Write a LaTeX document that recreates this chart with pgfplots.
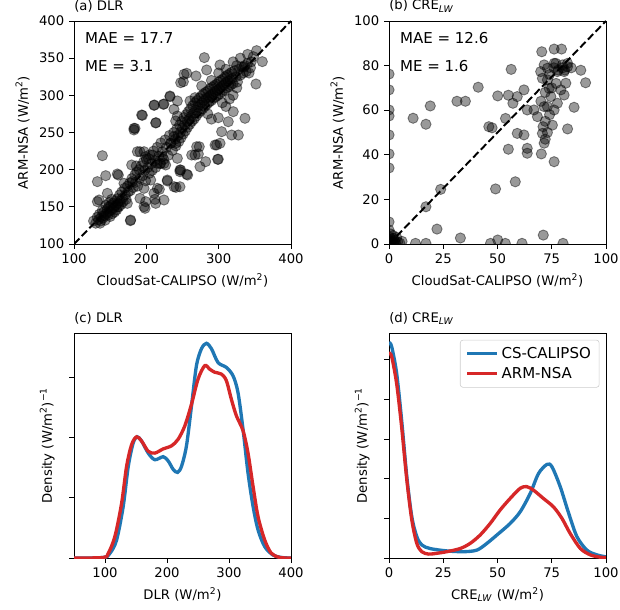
\documentclass[border=0pt]{standalone}
\usepackage{fontspec}
\setmainfont{DejaVu Sans}
\usepackage{pgfplots}
\pgfplotsset{compat=1.18}
\definecolor{tabblue}{RGB}{31,119,180}
\definecolor{tabred}{RGB}{214,39,40}
\newcommand{\fs}{\fontsize{9.5}{11}\selectfont}
\newcommand{\fl}{\fontsize{10.8}{13}\selectfont}
\pgfplotsset{
  base/.style={scale only axis, anchor=south west, width=156.2pt,
    axis line style={line width=0.6pt}, tick align=outside, tick pos=left,
    major tick length=3.5pt, every tick/.style={black, line width=0.6pt},
    tick label style={font=\fs}, label style={font=\fs},
    title style={font=\fs, at={(0,1)}, anchor=south west, inner xsep=0pt, inner ysep=0pt},
    clip marker paths=true,
    /pgf/number format/assume math mode=true},
  sc/.style={only marks, mark=*, mark size=3.7pt,
    mark options={fill=black, fill opacity=0.4, draw=black, draw opacity=0.45, line width=0.6pt}},
  dl/.style={black, dash pattern=on 5.5pt off 2.4pt, line width=1.4pt},
  kb/.style={tabblue, line width=2.4pt, smooth, tension=0.5},
  kr/.style={tabred, line width=2.4pt, smooth, tension=0.5},
}
\begin{document}
\begin{tikzpicture}
\path[use as bounding box] (0,0) rectangle (446.4pt,438.5pt);
% (a)
\begin{axis}[base, at={(53.3pt,262.8pt)}, height=160.6pt,
  xmin=100, xmax=400, ymin=100, ymax=400,
  xtick={100,200,300,400}, ytick={100,150,200,250,300,350,400},
  title={(a) DLR}, xlabel={CloudSat-CALIPSO (W/m\textsuperscript{2})},
  ylabel={ARM-NSA (W/m\textsuperscript{2})}]
\addplot[sc] coordinates {
(127,131)(130,128)(132,136)(134,133)(135,140)(137,131)(138,137)(140,135)(141,143)(142,138)
(143,132)(145,141)(146,147)(147,139)(148,150)(149,144)(150,137)(151,152)(152,146)(153,141)
(154,155)(155,149)(156,143)(157,158)(158,152)(159,146)(160,161)(161,155)(162,150)(163,166)
(164,158)(165,153)(166,170)(167,162)(168,157)(170,175)(171,166)(172,160)(174,178)(175,170)
(136,128)(144,152)(139,145)(152,160)(160,150)
(177,182)(178,172)(180,188)(182,176)(184,193)(185,183)(187,197)(188,178)(190,200)(191,188)
(193,205)(195,192)(196,210)(198,199)(199,185)(200,214)(202,203)(204,195)(205,220)(207,208)
(208,199)(210,225)(212,212)(213,203)(215,230)(217,218)(219,208)(220,236)(222,224)(224,214)
(226,240)(228,230)(230,219)(232,246)(234,236)(236,226)(238,250)(240,241)(186,205)(203,215)
(241,232)(242,255)(244,246)(245,238)(246,260)(247,250)(248,243)(249,265)(250,256)(251,248)
(252,270)(253,260)(254,252)(255,274)(256,265)(257,257)(258,278)(259,268)(260,261)(261,282)
(262,272)(263,265)(264,286)(265,276)(266,268)(267,290)(268,280)(269,272)(270,293)(271,284)
(272,276)(273,296)(274,287)(275,279)(276,299)(277,290)(278,282)(279,302)(280,293)(281,285)
(282,304)(283,296)(284,288)(285,306)(286,298)(287,291)(288,309)(289,300)(290,293)(291,311)
(292,302)(293,296)(294,313)(295,305)(296,298)(297,315)(298,307)(299,300)(300,318)(301,309)
(302,302)(303,320)(304,312)(305,305)(306,322)(307,314)(308,307)(309,325)(310,317)(311,310)
(312,327)(313,319)(314,312)(315,329)(316,321)(317,314)(318,331)(319,323)(320,316)(322,333)
(324,325)(326,318)(328,335)(330,327)(332,338)(334,330)(336,340)(338,332)(340,343)(344,337)
(280.2,350.7)(352.5,360.1)(360.4,345.3)(351.6,315.2)(301.8,340.8)(283.4,334.1)(268.7,326.0)
(251.2,318.4)(255.8,329.6)(276.5,312.6)(232.7,298.2)(224.4,288.3)(211.1,287.0)(193.5,273.5)
(213.4,263.2)(184.3,255.6)(336.4,269.1)(327.2,246.6)(318.0,246.6)(304.1,251.1)(297.2,233.2)
(139.2,218.8)(191.2,224.2)(179.7,206.3)(143.8,191.9)(132.3,183.9)(161.3,192.8)(132.3,157.0)
(177.9,131.4)(198.2,148.0)(191.2,161.4)(212.0,160.1)(218.0,173.5)(229.0,184.8)(241.0,176.2)
(246.5,197.3)(257.1,192.8)(274.2,204.0)(282.0,210.8)(298.6,213.9)(271.9,221.1)(269.6,230.9)
(320.2,278)(260.4,292.4)(267.3,296.8)(299.5,269.9)(313.3,264.5)
(299.5,214)(262.7,219.7)(267.3,219.7)(273.2,230.9)(295,233.2)(301.9,235.5)(246.5,199.6)
(255.8,193.8)(246.5,177)
(182.9,253.4)(187.6,224.2)(159.9,194.2)(178.3,132.3)(196.8,150.2)(199.1,157)(210.6,168.2)
(215.2,174.9)(229,186.1)(238.2,177.1)(224.4,159.2)(206,186.1)(212.9,154.7)(196.8,174.9)
(180.6,183.9)(169.1,181.6)(173.7,154.7)(146.1,168.2)(134.6,159.2)(148.4,155.6)(224.4,208.5)
(215.2,208.5)(199.1,217.5)(196.8,224.2)(208.3,219.7)(219.8,208.5)(222.1,217.5)(226.7,206.3)
(242.9,215.2)(247.5,199.6)(240.6,235.4)(233.6,235.4)(238.2,244.4)
(194.5,273.1)(210.6,286.5)(223.5,287.9)(232.7,299.1)(212.9,262.8)(182.9,255.6)(242.9,292.4)
(247.5,317)(252.1,328.3)(238.2,281.2)(242.9,272.2)(240.6,265.5)
(310,285)(320,300)(305,290)(290,268)(325,310)(315,295)(285,275)
(290,320)(300,330)(310,335)(320,345)(330,350)(340,355)(325,340)
(345,345)(348,352)(335,338)(342,330)
};
\addplot[dl] coordinates {(100,100)(400,400)};
\node[anchor=west, font=\fl, inner xsep=0pt] at (rel axis cs:0.05,0.924) {MAE = 17.7};
\node[anchor=west, font=\fl, inner xsep=0pt] at (rel axis cs:0.05,0.798) {ME = 3.1};
\end{axis}
% (b)
\begin{axis}[base, at={(280.1pt,262.8pt)}, height=160.6pt,
  xmin=0, xmax=100, ymin=0, ymax=100,
  xtick={0,25,50,75,100}, ytick={0,20,40,60,80,100},
  title={(b) CRE\textsubscript{\textit{LW}}}, xlabel={CloudSat-CALIPSO (W/m\textsuperscript{2})},
  ylabel={ARM-NSA (W/m\textsuperscript{2})}]
\addplot[sc] coordinates {
(0,76.2)(0,69.1)(0,60.1)(0,57.4)(0,48.9)(0,40.4)(0,34.1)(0,9.9)(0,6.3)
(0,0)(0.5,1)(1,0.3)(1.5,2)(2,0.5)(0.3,3)(2.5,1.5)(3,0.2)(0.8,4.5)(4,1)(1.2,0.8)(3.5,3)(0,2)
(2,2.5)(5,0.4)(0.2,1.5)(1.8,3.8)(6,1.2)(0.6,0.1)(2.8,0.9)
(11.1,56.4)(17.0,53.7)(19.0,61.9)(31.3,64.0)(35.2,64.0)(41.1,70.3)(17.0,16.7)(23.8,24.5)
(22.1,6.7)(32.9,2.7)(12.2,0.3)(17.0,0.3)(46.8,0.3)(50.1,1.8)(53.6,0.3)(61.3,0.3)(71.1,4.0)
(80.2,0.3)(49.1,24.7)(58.2,27.9)(55.0,42.5)(70.2,40.4)(76.1,36.9)(82.3,51.6)(85.3,61.3)
(88.4,77.9)(90.6,72.3)(56.3,78.3)(70.4,86.2)(76.1,87.4)(79.5,87.4)(50.1,66.4)(55.0,66.7)
(62.2,69.1)
(59.1,66.1)(57.1,63.1)(63.7,60.1)(66.8,60.1)(59.1,49.6)(62.2,48.9)(63.7,42.9)(63.7,40.7)
(71.5,45.2)(70.7,49.6)(71.0,52.6)(68.4,57.1)(71.5,61.6)(73.0,61.6)(76.1,60.1)(77.6,63.1)
(74.6,66.1)(80.7,66.8)(79.2,69.1)(73.8,69.8)(73.0,73.6)(69.9,77.3)(71.5,80.3)(76.1,81.0)
(77.6,77.3)(82.3,79.5)(80.7,77.3)(81.5,72.1)(75.3,53.3)(46.0,52.6)(47.5,52.1)(53.7,56.3)
(70.7,74.3)(73.0,78.8)(76.9,81.0)(79.9,80.3)(82.3,81.0)
(72,55)(73,50)(72,47)(74,58)(70,64)(72,68)(75,70)(77,72)(74,76)(78,78)(80,79)(81,78)(84,79)(76,79)
};
\addplot[dl] coordinates {(0,0)(100,100)};
\node[anchor=west, font=\fl, inner xsep=0pt] at (rel axis cs:0.05,0.924) {MAE = 12.6};
\node[anchor=west, font=\fl, inner xsep=0pt] at (rel axis cs:0.05,0.798) {ME = 1.6};
\end{axis}
% (c)
\begin{axis}[base, at={(53.3pt,36.7pt)}, height=162pt,
  xmin=50, xmax=400, ymin=0, ymax=3.73,
  xtick={100,200,300,400}, ytick={0,1,2,3}, yticklabels={},
  title={(c) DLR}, xlabel={DLR (W/m\textsuperscript{2})},
  ylabel={Density (W/m\textsuperscript{2})\textsuperscript{−1}}]
\addplot[kb] coordinates {
(50,0)(97.2,0.01)(108,0.08)(118.7,0.3)(129.4,0.86)(137.5,1.52)(145.5,1.91)(152,2.01)
(159,1.94)(169.7,1.74)(180.4,1.63)(193.9,1.68)(201.9,1.61)(210,1.47)(217,1.42)(223.4,1.52)
(231.4,1.86)(239.5,2.52)(247.5,3.19)(255.6,3.47)(263.6,3.56)(271.7,3.47)(282.4,3.24)
(295.8,3.16)(306.6,3.02)(314.6,2.74)(322.7,2.13)(330.7,1.41)(338.8,0.86)(346.8,0.47)
(357.6,0.19)(371,0.05)(384.4,0.01)(400,0)};
\addplot[kr] coordinates {
(50,0)(97.2,0.01)(105.3,0.08)(116,0.36)(126.8,0.91)(134.8,1.52)(142.9,1.88)(150.9,2.01)
(159,1.94)(169.7,1.77)(180.4,1.74)(193.9,1.81)(207.3,1.86)(218,1.97)(228.7,2.19)(239.5,2.55)
(250.2,2.97)(261,3.19)(269,3.13)(277,3.08)(287.8,3.05)(295.8,2.94)(303.9,2.63)(311.9,2.36)
(322.7,2.11)(330.7,1.74)(338.8,1.19)(346.8,0.69)(357.6,0.3)(368.3,0.08)(381.7,0.01)(400,0)};
\end{axis}
% (d)
\begin{axis}[base, at={(280.1pt,36.7pt)}, height=162pt,
  xmin=0, xmax=100, ymin=0, ymax=5.67,
  xtick={0,25,50,75,100}, ytick={0,1,2,3,4,5}, yticklabels={},
  title={(d) CRE\textsubscript{\textit{LW}}}, xlabel={CRE\textsubscript{\textit{LW}} (W/m\textsuperscript{2})},
  ylabel={Density (W/m\textsuperscript{2})\textsuperscript{−1}},
  legend style={at={(0.97,0.97)}, anchor=north east, draw=black!20, rounded corners=2pt,
    font=\fl, fill=white, inner xsep=4pt, inner ysep=3pt, row sep=1pt},
  legend cell align=left,
  legend image code/.code={\draw[#1] (0cm,0cm) -- (0.75cm,0cm);}]
\addplot[kb] coordinates {
(0,5.43)(1.2,5.33)(3.5,4.66)(5.8,3.48)(8.2,2.05)(10.5,1.04)(12.8,0.54)(15.1,0.33)(18.9,0.24)
(26.6,0.18)(34.3,0.16)(40.5,0.2)(45.1,0.37)(49.7,0.58)(55.8,0.87)(60.5,1.17)(65.1,1.63)
(68.9,2.13)(72.8,2.36)(75.1,2.3)(78.9,1.8)(82.8,1.13)(86.6,0.54)(91.2,0.2)(95.8,0.08)(100,0.03)};
\addlegendentry{CS-CALIPSO}
\addplot[kr] coordinates {
(0,5.16)(1.2,5.08)(3.5,4.4)(5.8,3.31)(8.2,1.97)(10.5,0.96)(12.8,0.37)(15.1,0.16)(18.2,0.1)
(22,0.12)(26.6,0.16)(32.8,0.24)(37.4,0.37)(42,0.58)(46.6,0.87)(51.2,1.21)(55.8,1.5)(60.5,1.76)
(63.5,1.8)(66.6,1.71)(71.2,1.5)(75.8,1.29)(79.7,1.0)(83.5,0.62)(88.2,0.24)(92.8,0.08)
(97.4,0.02)(100,0.01)};
\addlegendentry{ARM-NSA}
\end{axis}
\end{tikzpicture}
\end{document}
